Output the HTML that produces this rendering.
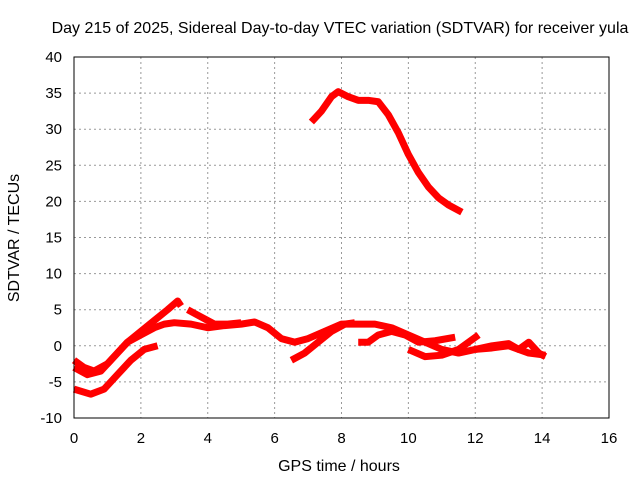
<!DOCTYPE html>
<html><head><meta charset="utf-8"><style>
body{margin:0;background:#fff;}
svg{display:block;font-family:"Liberation Sans",sans-serif;}
</style></head><body>
<svg id="c" width="640" height="480">
<text x="340" y="33" font-size="16" text-anchor="middle">Day 215 of 2025, Sidereal Day-to-day VTEC variation (SDTVAR) for receiver yula</text>
<text x="339" y="471" font-size="16" text-anchor="middle">GPS time / hours</text>
<text transform="translate(19,238) rotate(-90)" font-size="16" text-anchor="middle">SDTVAR / TECUs</text>
<g id="grid"></g><g id="series"></g>
<rect x="74" y="57" width="535" height="361" fill="none" stroke="#000"/>
</svg>
<script>
const xTicks=[0,2,4,6,8,10,12,14,16];
const yTicks=[-10,-5,0,5,10,15,20,25,30,35,40];
const seriesA=[[7.1,31],[7.4,32.5],[7.7,34.5],[7.9,35.2],[8.2,34.5],[8.5,34],[8.8,34],[9.1,33.8],[9.4,32],[9.7,29.5],[10,26.5],[10.3,24],[10.6,22],[10.9,20.5],[11.2,19.5],[11.6,18.5]];
const seriesB=[[0,-2],[0.3,-3],[0.6,-3.5],[1,-2.5],[1.3,-1],[1.6,0.5],[2,2],[2.4,3.5],[2.8,5],[3.1,6.2],[3.2,5.5]];
const seriesC=[[0,-3],[0.4,-4],[0.8,-3.5],[1.2,-1.5],[1.6,0.5],[2,1.5],[2.4,2.5],[2.7,3],[3,3.2],[3.5,3],[4,2.5],[4.5,2.8],[5,3],[5.4,3.3],[5.8,2.5],[6.2,1],[6.6,0.5],[7,1],[7.5,2],[8,3],[8.5,3],[9,3],[9.5,2.5],[10,1.5],[10.5,0.5],[11,-0.5],[11.5,-1],[12,-0.5],[12.5,-0.3],[13,0],[13.3,-0.5],[13.6,-1],[14.1,-1.3]];
const seriesD=[[0,-6],[0.5,-6.7],[0.9,-6],[1.3,-4],[1.7,-2],[2.1,-0.5],[2.5,0]];
const seriesE=[[3.4,5],[3.8,4],[4.2,3],[4.6,3],[5,3.2]];
const seriesF=[[6.5,-2],[6.9,-1],[7.3,0.5],[7.7,2],[8.1,3],[8.4,3.2]];
const seriesG=[[8.5,0.5],[8.8,0.5],[9.1,1.5],[9.5,2],[9.9,1.5],[10.3,0.5],[10.8,0.7],[11.4,1.2]];
const seriesH=[[10,-0.5],[10.5,-1.5],[11,-1.3],[11.5,-0.5],[11.8,0.5],[12.1,1.5]];
const seriesI=[[12,-0.5],[12.5,0],[13,0.3],[13.3,-0.5],[13.6,0.5],[13.9,-1],[14.1,-1.5]];
const allSeries=[seriesA,seriesB,seriesC,seriesD,seriesE,seriesF,seriesG,seriesH,seriesI];
const X=h=>74+h*535/16, Y=v=>418-(v+10)*361/50;
const NS="http://www.w3.org/2000/svg";
const g=document.getElementById('grid'), s=document.getElementById('series');
xTicks.forEach(t=>{
 if(t>0&&t<16){const l=document.createElementNS(NS,'line');
 l.setAttribute('x1',X(t));l.setAttribute('x2',X(t));l.setAttribute('y1',57);l.setAttribute('y2',418);
 l.setAttribute('stroke','#999');l.setAttribute('stroke-dasharray','2,3');
 
 g.appendChild(l);}
 const tx=document.createElementNS(NS,'text');tx.setAttribute('x',X(t));tx.setAttribute('y',443);
 tx.setAttribute('font-size','15');tx.setAttribute('text-anchor','middle');tx.textContent=t;
 
 g.appendChild(tx);
});
yTicks.forEach(t=>{
 if(t>-10&&t<40){const l=document.createElementNS(NS,'line');
 l.setAttribute('x1',74);l.setAttribute('x2',609);l.setAttribute('y1',Y(t));l.setAttribute('y2',Y(t));
 l.setAttribute('stroke','#999');l.setAttribute('stroke-dasharray','2,3');
 
 g.appendChild(l);}
 const tx=document.createElementNS(NS,'text');tx.setAttribute('x',62);tx.setAttribute('y',Y(t)+5);
 tx.setAttribute('font-size','15');tx.setAttribute('text-anchor','end');tx.textContent=t;
 
 g.appendChild(tx);
});
allSeries.forEach(arr=>{
 const p=document.createElementNS(NS,'polyline');
 p.setAttribute('points',arr.map(d=>X(d[0])+','+Y(d[1])).join(' '));
 p.setAttribute('fill','none');p.setAttribute('stroke','#f00');p.setAttribute('stroke-width','7');
 p.setAttribute('stroke-linejoin','round');
 
 s.appendChild(p);
});
</script>
</body></html>
